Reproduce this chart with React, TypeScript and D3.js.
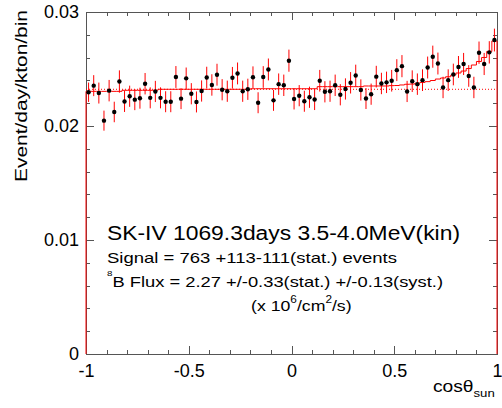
import { useRef, useEffect } from "react";
import * as d3 from "d3";

// cos(theta_sun) histogram, 80 bins from -1 to 1
const binCount = 80;
const cosRange = [-1, 1];

// measured rate per bin (event/day/kton/bin)
const rate = [
  0.02296, 0.02354, 0.02289, 0.02047, 0.0231, 0.02123, 0.0239, 0.02215, 0.02261, 0.02231,
  0.02244, 0.02371, 0.02247, 0.02303, 0.02247, 0.02213, 0.02213, 0.0243, 0.0224, 0.02418,
  0.02283, 0.02211, 0.02307, 0.02425, 0.0236, 0.0245, 0.02318, 0.02305, 0.02423, 0.02461,
  0.02305, 0.02322, 0.02428, 0.02204, 0.0243, 0.02496, 0.02225, 0.02367, 0.02357, 0.02573,
  0.02237, 0.02266, 0.02217, 0.02252, 0.02232, 0.02397, 0.023, 0.02305, 0.02357, 0.02274,
  0.02325, 0.02379, 0.02443, 0.02316, 0.02241, 0.02279, 0.02433, 0.02373, 0.02383, 0.02397,
  0.0249, 0.02525, 0.02303, 0.02393, 0.02367, 0.02402, 0.02513, 0.02608, 0.02548, 0.02338,
  0.02402, 0.02452, 0.02518, 0.02544, 0.02439, 0.02338, 0.02643, 0.02544, 0.02646, 0.02754,
];

// statistical error per bin
const rateErr = [
  0.00085, 0.00092, 0.00092, 0.00088, 0.00094, 0.0009, 0.00098, 0.00092, 0.00093, 0.00092,
  0.00092, 0.00094, 0.00092, 0.00093, 0.00092, 0.00092, 0.00092, 0.00096, 0.00092, 0.00095,
  0.00093, 0.00092, 0.00093, 0.00095, 0.00094, 0.00096, 0.00093, 0.00093, 0.00095, 0.00096,
  0.00093, 0.00093, 0.00095, 0.00092, 0.00095, 0.00096, 0.00092, 0.00094, 0.00094, 0.00097,
  0.00092, 0.00093, 0.00092, 0.00093, 0.00092, 0.00095, 0.00093, 0.00093, 0.00094, 0.00093,
  0.00093, 0.00094, 0.00095, 0.00093, 0.00092, 0.00093, 0.00095, 0.00094, 0.00094, 0.00095,
  0.00096, 0.00097, 0.00093, 0.00095, 0.00094, 0.00095, 0.00096, 0.00097, 0.00096, 0.00094,
  0.00095, 0.00095, 0.00096, 0.00097, 0.00095, 0.00094, 0.00098, 0.00097, 0.00098, 0.001,
];

// best fit (signal + background) per bin
const fitRate = [
  0.02304, 0.02304, 0.02304, 0.02304, 0.02304, 0.02304, 0.02304, 0.02313, 0.02313, 0.02313,
  0.02313, 0.02313, 0.02313, 0.02313, 0.02322, 0.02322, 0.02322, 0.02322, 0.02322, 0.02322,
  0.02322, 0.02322, 0.02322, 0.02322, 0.02322, 0.02322, 0.02322, 0.02322, 0.02322, 0.02322,
  0.02322, 0.02322, 0.02327, 0.02327, 0.02327, 0.02327, 0.02327, 0.02327, 0.02327, 0.02327,
  0.02327, 0.02327, 0.02327, 0.02327, 0.02327, 0.02345, 0.02345, 0.02345, 0.02345, 0.02345,
  0.02345, 0.02345, 0.02345, 0.02345, 0.02351, 0.02351, 0.02351, 0.02351, 0.02351, 0.02354,
  0.02355, 0.0236, 0.02366, 0.02368, 0.02375, 0.02382, 0.02389, 0.02399, 0.02412, 0.02421,
  0.02432, 0.02447, 0.02465, 0.02482, 0.02504, 0.02535, 0.02566, 0.02601, 0.02654, 0.02746,
];

// flat background level
const bgRate = 0.02322;

const xMajor = [-1, -0.5, 0, 0.5, 1];
const xTickLabels = ["-1", "-0.5", "0", "0.5", "1"];
const yMajor = [0, 0.01, 0.02, 0.03];
const yTickLabels = ["0", "0.01", "0.02", "0.03"];

const W = 502;
const H = 408;
const FONT = "'Liberation Sans', Arial, Helvetica, sans-serif";

export default function App() {
  const ref = useRef<SVGSVGElement>(null);

  useEffect(() => {
    const svg = d3.select(ref.current);
    svg.selectAll("*").remove();

    const x = d3.scaleLinear().domain(cosRange).range([86, 497]);
    const y = d3.scaleLinear().domain([0, 0.03]).range([354, 12]);

    const binW = (cosRange[1] - cosRange[0]) / binCount;
    const edges = d3.range(binCount + 1).map((i) => cosRange[0] + i * binW);
    const centers = d3.range(binCount).map((i) => cosRange[0] + (i + 0.5) * binW);

    const xMinor = d3.range(-1, 1.0001, 0.1);
    const yMinor = d3.range(0, 0.03001, 0.002);

    const axisColor = "#555";

    // ticks on all four sides, pointing inward
    const addAxis = (axis: any, tx: number, ty: number) => {
      const g = svg
        .append("g")
        .attr("transform", `translate(${tx},${ty})`)
        .style("shape-rendering", "crispEdges")
        .call(axis);
      g.select(".domain").attr("stroke", axisColor);
      g.selectAll(".tick line").attr("stroke", axisColor);
      g.selectAll("text")
        .attr("fill", "#000")
        .style("font-family", FONT)
        .style("font-size", "18px");
      return g;
    };

    addAxis(d3.axisBottom(x).tickValues(xMinor).tickSize(-4).tickFormat(() => "").tickSizeOuter(0), 0, 354);
    addAxis(d3.axisTop(x).tickValues(xMinor).tickSize(-4).tickFormat(() => "").tickSizeOuter(0), 0, 12);
    addAxis(d3.axisLeft(y).tickValues(yMinor).tickSize(-4).tickFormat(() => "").tickSizeOuter(0), 86, 0);
    addAxis(d3.axisRight(y).tickValues(yMinor).tickSize(-4).tickFormat(() => "").tickSizeOuter(0), 497, 0);

    addAxis(
      d3.axisBottom(x).tickValues(xMajor).tickSize(-8).tickPadding(10).tickSizeOuter(0)
        .tickFormat((_d: any, i: number) => xTickLabels[i]),
      0, 354
    );
    addAxis(d3.axisTop(x).tickValues(xMajor).tickSize(-8).tickFormat(() => "").tickSizeOuter(0), 0, 12);
    addAxis(
      d3.axisLeft(y).tickValues(yMajor).tickSize(-8).tickPadding(7).tickSizeOuter(0)
        .tickFormat((_d: any, i: number) => yTickLabels[i]),
      86, 0
    );
    addAxis(d3.axisRight(y).tickValues(yMajor).tickSize(-8).tickFormat(() => "").tickSizeOuter(0), 497, 0);

    // background (dotted)
    svg
      .append("line")
      .attr("x1", x(cosRange[0]))
      .attr("x2", x(cosRange[1]))
      .attr("y1", y(bgRate))
      .attr("y2", y(bgRate))
      .attr("stroke", "#ff0000")
      .attr("stroke-width", 1)
      .attr("stroke-dasharray", "1,2");

    // fit histogram
    const pts: [number, number][] = [[edges[0], 0]];
    fitRate.forEach((v, i) => {
      pts.push([edges[i], v]);
      pts.push([edges[i + 1], v]);
    });
    pts.push([edges[binCount], 0]);
    const line = d3
      .line<[number, number]>()
      .x((d) => x(d[0]))
      .y((d) => y(d[1]));
    svg
      .append("path")
      .attr("d", line(pts))
      .attr("fill", "none")
      .attr("stroke", "#ff0000")
      .attr("stroke-width", 1);

    // error bars
    svg
      .append("g")
      .selectAll("line")
      .data(rate)
      .enter()
      .append("line")
      .attr("x1", (_d, i) => x(centers[i]))
      .attr("x2", (_d, i) => x(centers[i]))
      .attr("y1", (d, i) => y(d - rateErr[i]))
      .attr("y2", (d, i) => y(d + rateErr[i]))
      .attr("stroke", "#ff0000")
      .attr("stroke-width", 1);

    // data points
    svg
      .append("g")
      .selectAll("circle")
      .data(rate)
      .enter()
      .append("circle")
      .attr("cx", (_d, i) => x(centers[i]))
      .attr("cy", (d) => y(d))
      .attr("r", 2.2)
      .attr("fill", "#000");

    // axis titles
    svg
      .append("text")
      .attr("transform", "translate(27,10) rotate(-90)")
      .attr("text-anchor", "end")
      .attr("textLength", 172)
      .attr("lengthAdjust", "spacingAndGlyphs")
      .style("font-family", FONT)
      .style("font-size", "16px")
      .text("Event/day/kton/bin");

    const xTitle = svg
      .append("text")
      .attr("transform", "translate(433,392) scale(1.2,1)")
      .style("font-family", FONT)
      .style("font-size", "16px");
    xTitle.append("tspan").text("cosθ");
    xTitle.append("tspan").attr("dy", 5).style("font-size", "11px").text("sun");

    // annotation block
    const note = svg.append("g").style("font-family", FONT).attr("fill", "#000");
    note
      .append("text")
      .attr("x", 107)
      .attr("y", 240)
      .attr("textLength", 353)
      .attr("lengthAdjust", "spacingAndGlyphs")
      .style("font-size", "19.5px")
      .text("SK-IV 1069.3days 3.5-4.0MeV(kin)");
    note
      .append("text")
      .attr("x", 107)
      .attr("y", 263)
      .attr("textLength", 290)
      .attr("lengthAdjust", "spacingAndGlyphs")
      .style("font-size", "15px")
      .text("Signal = 763 +113-111(stat.) events");
    const flux = note
      .append("text")
      .attr("x", 107)
      .attr("y", 287)
      .attr("textLength", 336)
      .attr("lengthAdjust", "spacingAndGlyphs")
      .style("font-size", "15px");
    flux.append("tspan").attr("dy", -11).style("font-size", "8px").text("8");
    flux.append("tspan").attr("dy", 11).text("B Flux = 2.27 +/-0.33(stat.) +/-0.13(syst.)");
    const unit = note
      .append("text")
      .attr("transform", "translate(251,311) scale(1.18,1)")
      .style("font-size", "15px");
    unit.append("tspan").text("(x 10");
    unit.append("tspan").attr("dy", -8).style("font-size", "10px").text("6");
    unit.append("tspan").attr("dy", 8).text("/cm");
    unit.append("tspan").attr("dy", -8).style("font-size", "10px").text("2");
    unit.append("tspan").attr("dy", 8).text("/s)");
  }, []);

  return (
    <svg
      ref={ref}
      width={W}
      height={H}
      style={{ position: "absolute", left: 0, top: 0, background: "#fff" }}
    />
  );
}
